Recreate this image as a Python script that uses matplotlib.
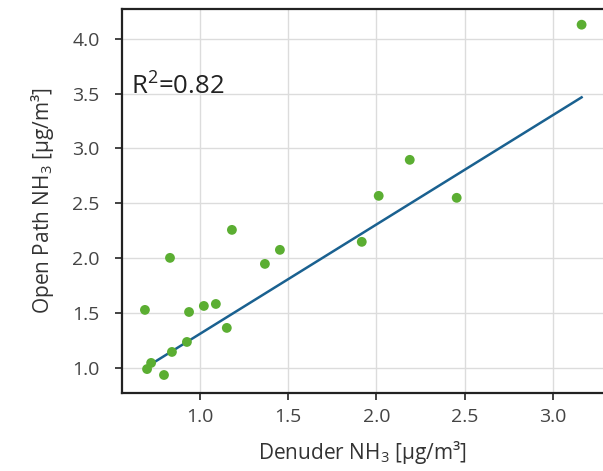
import numpy as np
import matplotlib
matplotlib.use("Agg")
from matplotlib import pyplot as plt

plt.rcParams['font.family'] = ['Open Sans', 'DejaVu Sans']
plt.rcParams['mathtext.fontset'] = 'custom'
plt.rcParams['mathtext.rm'] = 'Open Sans'
plt.rcParams['mathtext.it'] = 'Open Sans:italic'

# denuder vs open path NH3 (ug/m3)
denuder = [0.688, 0.700, 0.723, 0.796, 0.830, 0.841, 0.926, 0.938, 1.022, 1.090,
           1.152, 1.181, 1.368, 1.453, 1.917, 2.013, 2.189, 2.455, 3.163]
open_path = [1.529, 0.990, 1.046, 0.936, 2.003, 1.146, 1.237, 1.510, 1.565, 1.583,
             1.365, 2.258, 1.948, 2.076, 2.149, 2.568, 2.896, 2.550, 4.127]

# fitted line
fit_slope = 0.996
fit_intercept = 0.315
r2_label = 'R$^2$=0.82'

x = np.array(denuder)
y = np.array(open_path)
xl = np.array([x.min(), x.max()])

fig = plt.figure(figsize=(6.03, 4.71), dpi=100)
ax = fig.add_axes([122/603, 1 - 393/471, 482/603, 384/471])

ax.grid(True, color='#dcdcdc', lw=1.0)
ax.set_axisbelow(True)
ax.plot(xl, fit_slope * xl + fit_intercept, color='#1a6190', lw=1.8, zorder=2)
ax.scatter(x, y, s=50, color='#5bae32', edgecolors='none', zorder=3)

ax.text(0.018, 0.797, r2_label, transform=ax.transAxes, fontsize=18.5,
        ha='left', va='center', color='#222222')

ax.set_xlim(0.558, 3.29)
ax.set_ylim(0.772, 4.27)
ax.set_xticks([1.0, 1.5, 2.0, 2.5, 3.0])
ax.set_yticks([1.0, 1.5, 2.0, 2.5, 3.0, 3.5, 4.0])
ax.tick_params(labelsize=14, length=5, width=1.2, pad=6,
               colors='#222222', labelcolor='#444444')
ax.tick_params(axis='y', pad=11)
for s in ax.spines.values():
    s.set_linewidth(1.6)
    s.set_color('#222222')

ax.set_xlabel('Denuder NH$_3$ [µg/m³]', fontsize=15, color='#333333', labelpad=9)
ax.set_ylabel('Open Path NH$_3$ [µg/m³]', fontsize=15, color='#333333', labelpad=12)

fig.savefig('out.png', dpi=100)
